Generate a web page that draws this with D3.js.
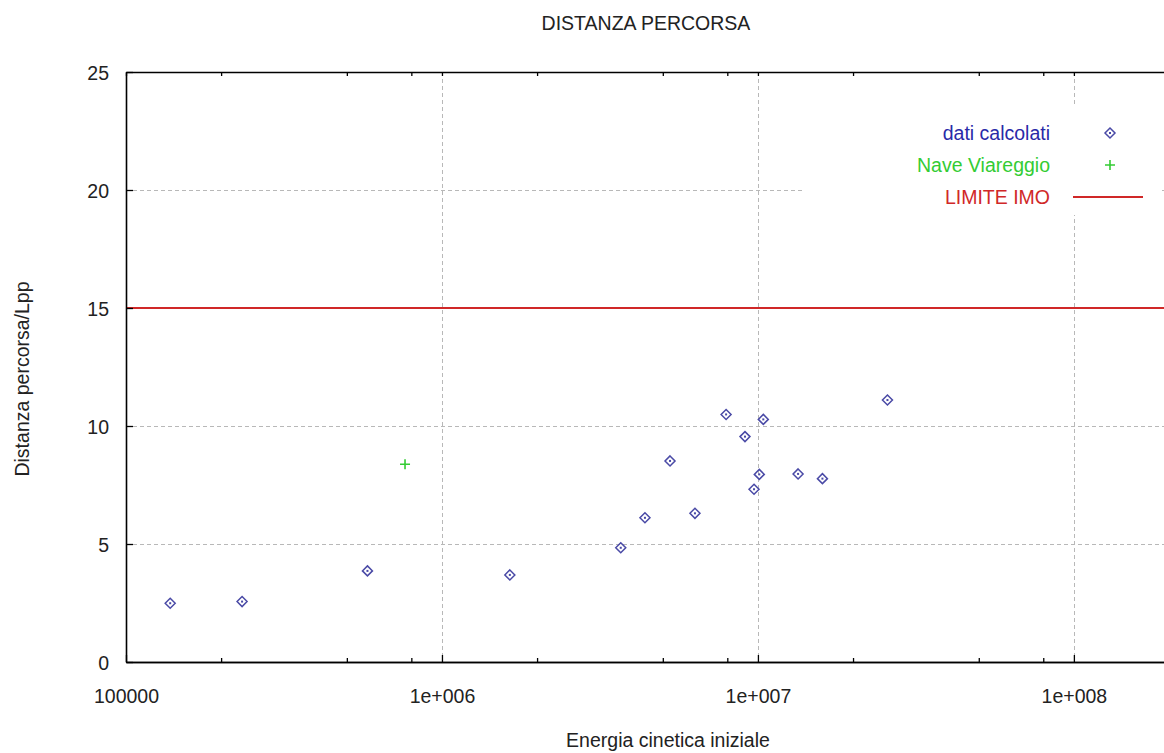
<!DOCTYPE html>
<html>
<head>
<meta charset="utf-8">
<script src="https://cdn.jsdelivr.net/npm/d3@7"></script>
<style>
  html, body { margin: 0; padding: 0; background: #fff; }
  svg { display: block; }
  text { font-family: "Liberation Sans", Arial, sans-serif; }
</style>
</head>
<body>
<svg id="chart" width="1164" height="753"></svg>
<script>
// ---- data ----
const calcX = [1.38e5, 2.33e5, 5.81e5, 1.64e6, 3.68e6, 4.39e6, 5.27e6, 6.32e6, 7.93e6, 9.10e6, 9.72e6, 1.01e7, 1.04e7, 1.34e7, 1.60e7, 2.57e7];
const calcY = [2.49, 2.56, 3.86, 3.69, 4.84, 6.11, 8.52, 6.30, 10.49, 9.55, 7.32, 7.95, 10.28, 7.97, 7.77, 11.10];
const viareggioX = [7.64e5];
const viareggioY = [8.38];
const imoLimit = [15];
const xMajorTicks = [1e5, 1e6, 1e7, 1e8];
const xMajorLabels = ["100000", "1e+006", "1e+007", "1e+008"];
const xMinorMult = [2, 5, 8];
const yTicks = [0, 5, 10, 15, 20, 25];
const legendLabels = ["dati calcolati", "Nave Viareggio", "LIMITE IMO"];
const titleText = "DISTANZA PERCORSA";
const xTitle = "Energia cinetica iniziale";
const yTitle = "Distanza percorsa/Lpp";

// ---- layout ----
const svg = d3.select("#chart");
const pL = 126, pR = 1169, pT = 72, pB = 662;
const FS = "19.5px";
const txt = "#222";
const blue = "#4a4aa6", blueText = "#2a2aa8", green = "#33cc33", red = "#d02828";

const x = d3.scaleLog().domain([1e5, 2e8]).range([pL, pR]);
const y = d3.scaleLinear().domain([0, 25]).range([pB, pT]);

const xMinor = [];
xMajorTicks.forEach(d => xMinorMult.forEach(m => { if (d * m <= 2e8) xMinor.push(d * m); }));

// grid
const grid = svg.append("g").attr("stroke", "#b8b8b8").attr("stroke-width", 1).attr("stroke-dasharray", "4,3");
grid.selectAll("line.v").data(xMajorTicks.slice(1)).join("line")
  .attr("x1", d => Math.round(x(d)) + 0.5).attr("x2", d => Math.round(x(d)) + 0.5)
  .attr("y1", pT).attr("y2", pB);
grid.selectAll("line.h").data(yTicks.filter(d => d !== 0 && d !== 25 && d !== 15)).join("line")
  .attr("x1", pL).attr("x2", pR)
  .attr("y1", d => Math.round(y(d)) + 0.5).attr("y2", d => Math.round(y(d)) + 0.5);

// legend background (covers the grid)
svg.append("rect").attr("x", 804).attr("y", 107).attr("width", 355).attr("height", 108).attr("fill", "#fff");

// IMO limit line
svg.selectAll("line.imo").data(imoLimit).join("line")
  .attr("x1", pL).attr("x2", pR)
  .attr("y1", d => y(d)).attr("y2", d => y(d))
  .attr("stroke", red).attr("stroke-width", 1.8);

// axes
const fmt = d => xMajorLabels[xMajorTicks.indexOf(d)];
const axB = svg.append("g").attr("transform", `translate(0,${pB})`)
  .call(d3.axisBottom(x).tickValues(xMajorTicks).tickFormat(fmt).tickSizeInner(-7).tickSizeOuter(0).tickPadding(27));
const axBm = svg.append("g").attr("transform", `translate(0,${pB})`)
  .call(d3.axisBottom(x).tickValues(xMinor).tickFormat("").tickSizeInner(-4).tickSizeOuter(0));
const axT = svg.append("g").attr("transform", `translate(0,${pT})`)
  .call(d3.axisTop(x).tickValues(xMajorTicks.concat(xMinor)).tickFormat("").tickSizeInner(-4).tickSizeOuter(0));
const axL = svg.append("g").attr("transform", `translate(${pL},0)`)
  .call(d3.axisLeft(y).tickValues(yTicks).tickSizeInner(-7).tickSizeOuter(0).tickPadding(17));

[axB, axBm, axT, axL].forEach(g => {
  g.select(".domain").attr("stroke", "#000").attr("stroke-width", 1.6);
  g.selectAll(".tick line").attr("stroke", "#000").attr("stroke-width", 1.3);
  g.selectAll(".tick text").attr("font-size", FS).attr("fill", txt).attr("font-family", "Liberation Sans, Arial, sans-serif");
});
axL.selectAll(".tick text").attr("dy", "0.36em");

// markers
function diamond(g, cx, cy) {
  g.append("path").attr("d", `M${cx},${cy - 5}L${cx + 5},${cy}L${cx},${cy + 5}L${cx - 5},${cy}Z`)
    .attr("fill", "none").attr("stroke", blue).attr("stroke-width", 1.5);
  g.append("rect").attr("x", cx - 1).attr("y", cy - 1).attr("width", 2).attr("height", 2).attr("fill", blue);
}
function cross(g, cx, cy) {
  g.append("path").attr("d", `M${cx - 5},${cy}H${cx + 5}M${cx},${cy - 5}V${cy + 5}`)
    .attr("stroke", green).attr("stroke-width", 1.6).attr("fill", "none");
}
const pts = svg.append("g");
calcX.forEach((d, i) => diamond(pts, x(d), y(calcY[i])));
viareggioX.forEach((d, i) => cross(pts, x(d), y(viareggioY[i])));

// legend
const lg = svg.append("g").attr("font-size", FS).attr("text-anchor", "end");
const legendY = [133, 165, 197];
const legendColors = [blueText, green, red];
legendLabels.forEach((t, i) => {
  lg.append("text").attr("x", 1050).attr("y", legendY[i]).attr("dy", "0.36em").attr("fill", legendColors[i]).text(t);
});
diamond(lg, 1110, legendY[0]);
cross(lg, 1110, legendY[1]);
lg.append("line").attr("x1", 1073).attr("x2", 1143).attr("y1", legendY[2]).attr("y2", legendY[2])
  .attr("stroke", red).attr("stroke-width", 1.8);

// titles
svg.append("text").attr("x", 646).attr("y", 30).attr("text-anchor", "middle").attr("font-size", FS).attr("fill", txt).text(titleText);
svg.append("text").attr("x", 668).attr("y", 747).attr("text-anchor", "middle").attr("font-size", FS).attr("fill", txt).text(xTitle);
svg.append("text").attr("transform", "translate(29,379) rotate(-90)").attr("text-anchor", "middle").attr("font-size", FS).attr("fill", txt).text(yTitle);
</script>
</body>
</html>
